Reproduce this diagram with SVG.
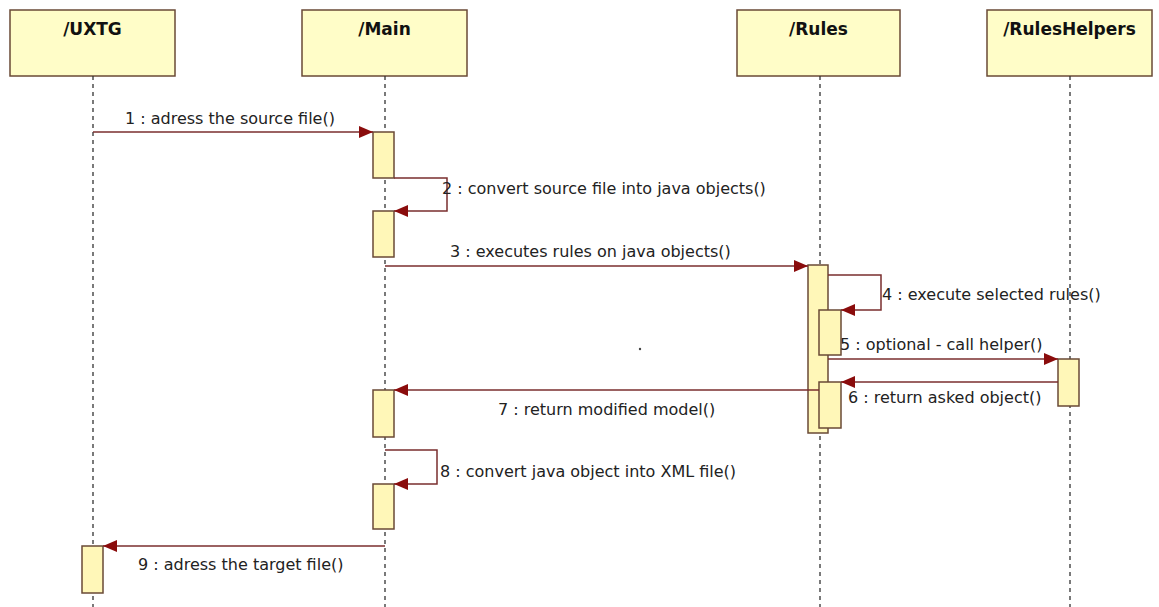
<svg xmlns="http://www.w3.org/2000/svg" width="1159" height="607" viewBox="0 0 1159 607">
  <style>
    .head { fill: #fffdc8; stroke: #6a4a36; stroke-width: 1.5; }
    .title { font-family: "DejaVu Sans", "Liberation Sans", sans-serif; font-weight: bold; font-size: 17px; fill: #111; text-anchor: middle; }
    .life { stroke: #333; stroke-width: 1.3; stroke-dasharray: 4 4; fill: none; }
    .act { fill: #fff7b8; stroke: #6a4a36; stroke-width: 1.5; }
    .msg { stroke: #7a2e2e; stroke-width: 1.5; fill: none; }
    .lbl { font-family: "DejaVu Sans", "Liberation Sans", sans-serif; font-size: 16px; fill: #222; }
  </style>
  <defs>
    <marker id="arrow" markerUnits="userSpaceOnUse" markerWidth="15" markerHeight="12" refX="14" refY="6" orient="auto">
      <path d="M0,0 L14,6 L0,12 z" fill="#8a0c0c"/>
    </marker>
  </defs>

  <rect width="1159" height="607" fill="#ffffff"/>

  <!-- lifeline: /UXTG -->
  <g id="uxtg">
    <rect class="head" x="10" y="10" width="165" height="66"/>
    <text class="title" x="92.5" y="35">/UXTG</text>
    <line class="life" x1="93" y1="76" x2="93" y2="607"/>
    <rect class="act" x="82" y="546" width="21" height="47"/>
  </g>

  <!-- lifeline: /Main -->
  <g id="main">
    <rect class="head" x="302" y="10" width="165" height="66"/>
    <text class="title" x="384.5" y="35">/Main</text>
    <line class="life" x1="385" y1="76" x2="385" y2="607"/>
    <rect class="act" x="373" y="132" width="21" height="46"/>
    <rect class="act" x="373" y="211" width="21" height="46"/>
    <rect class="act" x="373" y="390" width="21" height="47"/>
    <rect class="act" x="373" y="484" width="21" height="45"/>
  </g>

  <!-- lifeline: /Rules -->
  <g id="rules">
    <rect class="head" x="737" y="10" width="163" height="66"/>
    <text class="title" x="818.5" y="35">/Rules</text>
    <line class="life" x1="820" y1="76" x2="820" y2="607"/>
    <rect class="act" x="808" y="265" width="20" height="168"/>
    <rect class="act" x="819" y="310" width="22" height="45"/>
    <rect class="act" x="819" y="382" width="22" height="46"/>
  </g>

  <!-- lifeline: /RulesHelpers -->
  <g id="rules-helpers">
    <rect class="head" x="987" y="10" width="165" height="66"/>
    <text class="title" x="1069.5" y="35">/RulesHelpers</text>
    <line class="life" x1="1070" y1="76" x2="1070" y2="607"/>
    <rect class="act" x="1058" y="359" width="21" height="47"/>
  </g>

  <!-- stray point -->
  <circle cx="640" cy="349" r="1.2" fill="#444"/>

  <!-- messages -->
  <g id="connectors">
    <line class="msg" x1="93" y1="132" x2="373" y2="132" marker-end="url(#arrow)"/>
    <text class="lbl" x="125" y="124">1 : adress the source file()</text>

    <polyline class="msg" points="394,178 447,178 447,211 394,211" marker-end="url(#arrow)"/>
    <text class="lbl" x="442" y="194">2 : convert source file into java objects()</text>

    <line class="msg" x1="385" y1="266" x2="808" y2="266" marker-end="url(#arrow)"/>
    <text class="lbl" x="450" y="257">3 : executes rules on java objects()</text>

    <polyline class="msg" points="828,275 881,275 881,310 841,310" marker-end="url(#arrow)"/>
    <text class="lbl" x="882" y="300">4 : execute selected rules()</text>

    <line class="msg" x1="828" y1="359" x2="1058" y2="359" marker-end="url(#arrow)"/>
    <text class="lbl" x="840" y="350">5 : optional - call helper()</text>

    <line class="msg" x1="1058" y1="382" x2="841" y2="382" marker-end="url(#arrow)"/>
    <text class="lbl" x="848" y="403">6 : return asked object()</text>

    <line class="msg" x1="819" y1="390" x2="394" y2="390" marker-end="url(#arrow)"/>
    <text class="lbl" x="498" y="415">7 : return modified model()</text>

    <polyline class="msg" points="385,450 437,450 437,484 394,484" marker-end="url(#arrow)"/>
    <text class="lbl" x="440" y="477">8 : convert java object into XML file()</text>

    <line class="msg" x1="385" y1="546" x2="103" y2="546" marker-end="url(#arrow)"/>
    <text class="lbl" x="138" y="570">9 : adress the target file()</text>
  </g>
</svg>
